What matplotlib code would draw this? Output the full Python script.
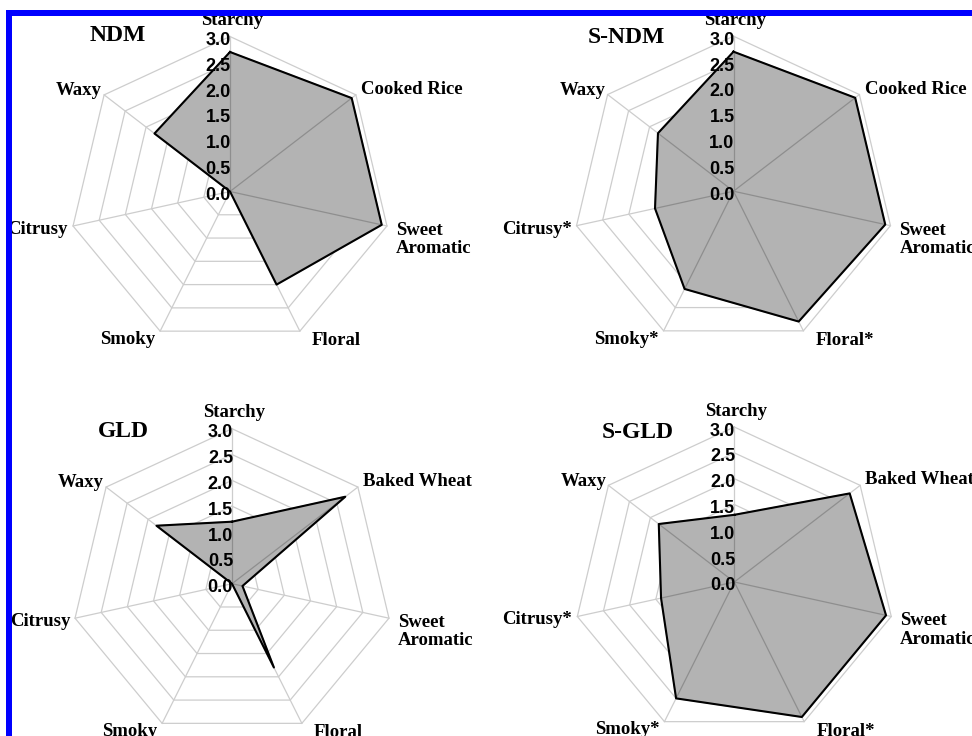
import numpy as np
import matplotlib
matplotlib.use("Agg")
import matplotlib.pyplot as plt
from matplotlib.patches import Rectangle

# Sensory attribute intensities (0-3 scale), clockwise from the top spoke
labels_ndm = ["Starchy", "Cooked Rice", "Sweet\nAromatic", "Floral", "Smoky", "Citrusy", "Waxy"]
labels_sndm = ["Starchy", "Cooked Rice", "Sweet\nAromatic", "Floral*", "Smoky*", "Citrusy*", "Waxy"]
labels_gld = ["Starchy", "Baked Wheat", "Sweet\nAromatic", "Floral", "Smoky", "Citrusy", "Waxy"]
labels_sgld = ["Starchy", "Baked Wheat", "Sweet\nAromatic", "Floral*", "Smoky*", "Citrusy*", "Waxy"]

ndm = [2.7, 2.9, 2.9, 2.0, 0.0, 0.0, 1.8]
s_ndm = [2.7, 2.9, 2.9, 2.8, 2.1, 1.5, 1.8]
gld = [1.2, 2.7, 0.2, 1.8, 0.0, 0.0, 1.8]
s_gld = [1.3, 2.75, 2.9, 2.9, 2.5, 1.4, 1.8]

titles = ["NDM", "S-NDM", "GLD", "S-GLD"]
tick_values = [0.0, 0.5, 1.0, 1.5, 2.0, 2.5, 3.0]
tick_labels = ["0.0", "0.5", "1.0", "1.5", "2.0", "2.5", "3.0"]

W, H = 972, 736
fig = plt.figure(figsize=(W / 100, H / 100), dpi=100)
fig.patch.set_facecolor("white")

SERIF = ["Liberation Serif", "DejaVu Serif"]
SANS = ["Liberation Sans", "DejaVu Sans"]

# panel centres in pixels (from top-left) and half-extents of the web
panels = [
    dict(values=ndm, labels=labels_ndm, title=titles[0], c=(230, 191.5), t=(-112, -156)),
    dict(values=s_ndm, labels=labels_sndm, title=titles[1], c=(733.5, 191.2), t=(-107, -154)),
    dict(values=gld, labels=labels_gld, title=titles[2], c=(232, 583.7), t=(-109, -152)),
    dict(values=s_gld, labels=labels_sgld, title=titles[3], c=(734.3, 582), t=(-97, -149)),
]
RX, RY = 161, 155

# label placement: offset from centre (px, y downward), horizontal alignment
label_pos = [
    ((2, -171), "center"),
    ((131, -102), "left"),
    ((166, 48), "left"),
    ((82, 149), "left"),
    ((-75, 148), "right"),
    ((-162, 38), "right"),
    ((-128, -101), "right"),
]

n = 7
angles = np.linspace(0, 2 * np.pi, n, endpoint=False)
angles_c = np.append(angles, angles[0])

GRID = "#cdcdcd"
FILL = "#b3b3b3"
SPOKE_IN = "#8e8e8e"

for p in panels:
    cx, cy = p["c"]
    rect = [(cx - RX) / W, (H - cy - RY) / H, 2 * RX / W, 2 * RY / H]
    ax = fig.add_axes(rect, projection="polar")
    ax.set_theta_zero_location("N")
    ax.set_theta_direction(-1)
    ax.set_ylim(0, 3)
    ax.set_aspect("auto")
    ax.axis("off")

    # heptagonal web
    for lvl in tick_values[1:]:
        ax.plot(angles_c, [lvl] * (n + 1), color=GRID, lw=0.9, zorder=1, clip_on=False)
    for a in angles:
        ax.plot([a, a], [0, 3], color=GRID, lw=0.9, zorder=1, clip_on=False)

    vals = np.append(p["values"], p["values"][0])
    patches = ax.fill(angles_c, vals, color=FILL, zorder=2, clip_on=False)
    poly = patches[0]

    # spokes showing through the filled area
    for a in angles:
        ln, = ax.plot([a, a], [0, 3], color=SPOKE_IN, lw=0.9, zorder=3)
        ln.set_clip_path(poly)

    ax.plot(angles_c, vals, color="black", lw=1.5, zorder=4, clip_on=False)

    # radial scale along the top spoke
    for v, s in zip(tick_values, tick_labels):
        ax.annotate(s, xy=(0, v), xycoords="data", xytext=(1, -4),
                    textcoords="offset pixels", ha="right", va="center",
                    fontsize=13, fontweight="bold", family=SANS, zorder=6,
                    annotation_clip=False)

    # attribute names
    for lab, ((dx, dy), ha) in zip(p["labels"], label_pos):
        ax.annotate(lab, xy=(0, 0), xycoords="data", xytext=(dx, -dy),
                    textcoords="offset pixels", ha=ha, va="center",
                    fontsize=13.5, fontweight="bold", family=SERIF,
                    linespacing=1.1, zorder=6, annotation_clip=False)

    tx, ty = p["t"]
    ax.annotate(p["title"], xy=(0, 0), xycoords="data", xytext=(tx, -ty),
                textcoords="offset pixels", ha="center", va="center",
                fontsize=17, fontweight="bold", family=SERIF, zorder=6,
                annotation_clip=False)

# blue frame along the left and top edges
blue = "#0000ff"
fig.add_artist(Rectangle((6 / W, 0), 5.7 / W, (H - 10) / H, transform=fig.transFigure,
                         facecolor=blue, edgecolor="none", zorder=20))
fig.add_artist(Rectangle((6 / W, (H - 15.5) / H), 1 - 6 / W, 5.5 / H, transform=fig.transFigure,
                         facecolor=blue, edgecolor="none", zorder=20))

fig.savefig("out.png", dpi=100)
